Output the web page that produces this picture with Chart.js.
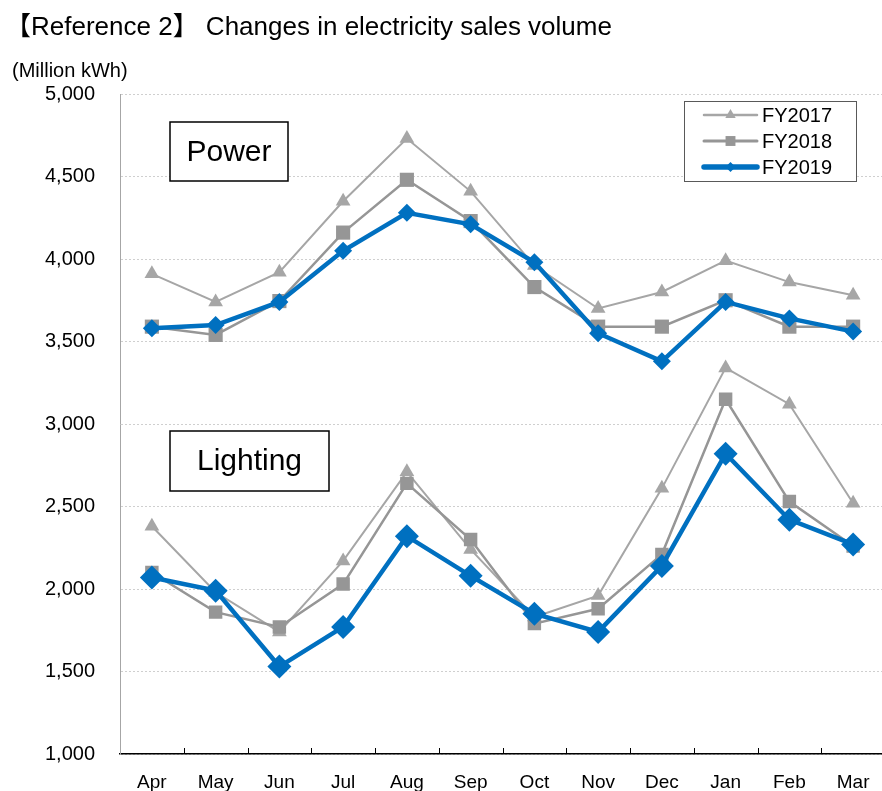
<!DOCTYPE html>
<html>
<head>
<meta charset="utf-8">
<script src="https://cdn.jsdelivr.net/npm/chart.js@4/dist/chart.umd.min.js"></script>
<style>
html, body { margin: 0; padding: 0; background: #fff; overflow: hidden; }
#wrap { width: 897px; height: 791px; }
</style>
</head>
<body>
<div id="wrap"><canvas id="chart" width="897" height="791"></canvas></div>
<script>
/* Electricity sales volume by month, Power vs Lighting, FY2017-FY2019 */

const MONTHS = ['Apr', 'May', 'Jun', 'Jul', 'Aug', 'Sep', 'Oct', 'Nov', 'Dec', 'Jan', 'Feb', 'Mar'];
const YEARS = ['FY2017', 'FY2018', 'FY2019'];

const POWER_FY2017 = [3910, 3740, 3920, 4350, 4730, 4410, 3960, 3700, 3800, 3990, 3860, 3780];
const POWER_FY2018 = [3590, 3540, 3745, 4160, 4480, 4230, 3830, 3590, 3590, 3750, 3590, 3590];
const POWER_FY2019 = [3580, 3600, 3740, 4050, 4280, 4210, 3980, 3550, 3380, 3740, 3640, 3560];

const LIGHTING_FY2017 = [2380, 1980, 1740, 2170, 2710, 2240, 1830, 1960, 2610, 3340, 3120, 2520];
const LIGHTING_FY2018 = [2100, 1860, 1770, 2030, 2640, 2300, 1790, 1880, 2210, 3150, 2530, 2260];
const LIGHTING_FY2019 = [2070, 1990, 1530, 1770, 2320, 2080, 1850, 1740, 2140, 2820, 2420, 2270];

const Y_MIN = 1000;
const Y_MAX = 5000;
const Y_STEP = 500;

const FONT = "'Liberation Sans', Arial, 'Noto Sans CJK JP', sans-serif";
const BLUE = '#0070c0';
const GRAY_LIGHT = '#a6a6a6';
const GRAY_DARK = '#969696';

// один стиль на год, общий для Power и Lighting
const STYLE = {
    FY2017: { color: GRAY_LIGHT, width: 2, pointStyle: 'triangle', r: 8.5, rLight: 8.5, legendR: 6, order: 2 },
    FY2018: { color: GRAY_DARK, width: 2.5, pointStyle: 'rect', r: 10, rLight: 9.5, legendR: 7, order: 1 },
    FY2019: { color: BLUE, width: 4.5, pointStyle: 'rectRot', r: 9, rLight: 12, legendR: 5, order: 0 },
};

function series(year, data, lighting) {
    const s = STYLE[year];
    return {
        label: year,
        data,
        inLegend: !lighting,
        borderColor: s.color,
        backgroundColor: s.color,
        borderWidth: s.width,
        pointStyle: s.pointStyle,
        pointRadius: lighting ? s.rLight : s.r,
        pointBorderWidth: 0,
        pointBackgroundColor: s.color,
        tension: 0,
        order: s.order,
    };
}

function drawMarker(ctx, style, r, x, y) {
    ctx.beginPath();
    if (style === 'triangle') {
        ctx.moveTo(x, y - r);
        ctx.lineTo(x + r * Math.sin(Math.PI / 3), y + r / 2);
        ctx.lineTo(x - r * Math.sin(Math.PI / 3), y + r / 2);
    } else if (style === 'rect') {
        const h = r * Math.SQRT1_2;
        ctx.rect(x - h, y - h, 2 * h, 2 * h);
    } else {
        ctx.moveTo(x, y - r);
        ctx.lineTo(x + r, y);
        ctx.lineTo(x, y + r);
        ctx.lineTo(x - r, y);
    }
    ctx.closePath();
    ctx.fill();
}

// заголовок, единицы измерения и подписи групп
const annotations = {
    id: 'annotations',
    afterDraw(chart) {
        const { ctx } = chart;
        ctx.save();
        ctx.fillStyle = '#000';
        ctx.textBaseline = 'middle';
        ctx.textAlign = 'left';
        ctx.font = `26px ${FONT}`;
        ctx.fillText('【Reference 2】 Changes in electricity sales volume', 5, 28);
        ctx.font = `20px ${FONT}`;
        ctx.fillText('(Million kWh)', 12, 71);

        ctx.strokeStyle = '#000';
        ctx.lineWidth = 1.5;
        ctx.font = `30px ${FONT}`;
        ctx.textAlign = 'center';
        [['Power', 170, 122, 118, 59], ['Lighting', 170, 431, 159, 60]].forEach(([t, x, y, w, h]) => {
            ctx.fillStyle = '#fff';
            ctx.fillRect(x, y, w, h);
            ctx.strokeRect(x, y, w, h);
            ctx.fillStyle = '#000';
            ctx.fillText(t, x + w / 2, y + h / 2 + 1);
        });
        ctx.restore();
    },
};

// рамка легенды как в Excel
const legendBox = {
    id: 'legendBox',
    afterDraw(chart) {
        const { ctx } = chart;
        const items = chart.data.datasets.filter((d) => d.inLegend);
        ctx.save();
        ctx.fillStyle = '#fff';
        ctx.fillRect(684, 101, 172, 80);
        ctx.strokeStyle = '#595959';
        ctx.lineWidth = 1;
        ctx.strokeRect(684.5, 101.5, 172, 80);
        ctx.font = `20px ${FONT}`;
        ctx.textBaseline = 'middle';
        items.forEach((d, i) => {
            const y = 115 + i * 26;
            const s = STYLE[d.label];
            ctx.strokeStyle = s.color;
            ctx.lineWidth = d.borderWidth + (d.label === 'FY2019' ? 1 : 0.5);
            ctx.lineCap = 'round';
            ctx.beginPath();
            ctx.moveTo(704, y);
            ctx.lineTo(757, y);
            ctx.stroke();
            ctx.fillStyle = s.color;
            drawMarker(ctx, s.pointStyle, s.legendR, 730.5, y);
            ctx.fillStyle = '#000';
            ctx.fillText(d.label, 762, y + 1);
        });
        ctx.restore();
    },
};

// засечки оси X внутрь области графика, на границах категорий
const innerTicks = {
    id: 'innerTicks',
    afterDatasetsDraw(chart) {
        const { ctx, chartArea } = chart;
        const x = chart.scales.x;
        ctx.save();
        ctx.strokeStyle = '#000';
        ctx.lineWidth = 1;
        for (let i = 0; i < MONTHS.length - 1; i++) {
            const px = Math.round((x.getPixelForValue(i) + x.getPixelForValue(i + 1)) / 2) + 0.5;
            ctx.beginPath();
            ctx.moveTo(px, chartArea.bottom);
            ctx.lineTo(px, chartArea.bottom - 6);
            ctx.stroke();
        }
        ctx.restore();
    },
};

Chart.defaults.font.family = FONT;
Chart.defaults.color = '#000';

new Chart(document.getElementById('chart'), {
    type: 'line',
    data: {
        labels: MONTHS,
        datasets: [
            series(YEARS[0], POWER_FY2017, false),
            series(YEARS[1], POWER_FY2018, false),
            series(YEARS[2], POWER_FY2019, false),
            series(YEARS[0], LIGHTING_FY2017, true),
            series(YEARS[1], LIGHTING_FY2018, true),
            series(YEARS[2], LIGHTING_FY2019, true),
        ],
    },
    options: {
        responsive: false,
        animation: false,
        layout: { padding: { top: 94, left: 0, right: 3, bottom: 0 } },
        plugins: { legend: { display: false }, tooltip: { enabled: false } },
        scales: {
            x: {
                offset: true,
                grid: { display: false },
                border: { display: true, color: '#000', width: 1.5 },
                ticks: { font: { size: 19 }, padding: 9, maxRotation: 0, autoSkip: false },
                afterFit: (s) => { s.height = 37; },
            },
            y: {
                min: Y_MIN,
                max: Y_MAX,
                grid: { color: '#cfcfcf', drawTicks: false },
                border: { display: true, color: '#a6a6a6', width: 1, dash: [2, 2] },
                ticks: {
                    stepSize: Y_STEP,
                    padding: 25,
                    font: { size: 20 },
                    callback: (v) => v.toLocaleString('en-US'),
                },
                afterFit: (s) => { s.width = 120; },
            },
        },
    },
    plugins: [annotations, legendBox, innerTicks],
});
</script>
</body>
</html>
